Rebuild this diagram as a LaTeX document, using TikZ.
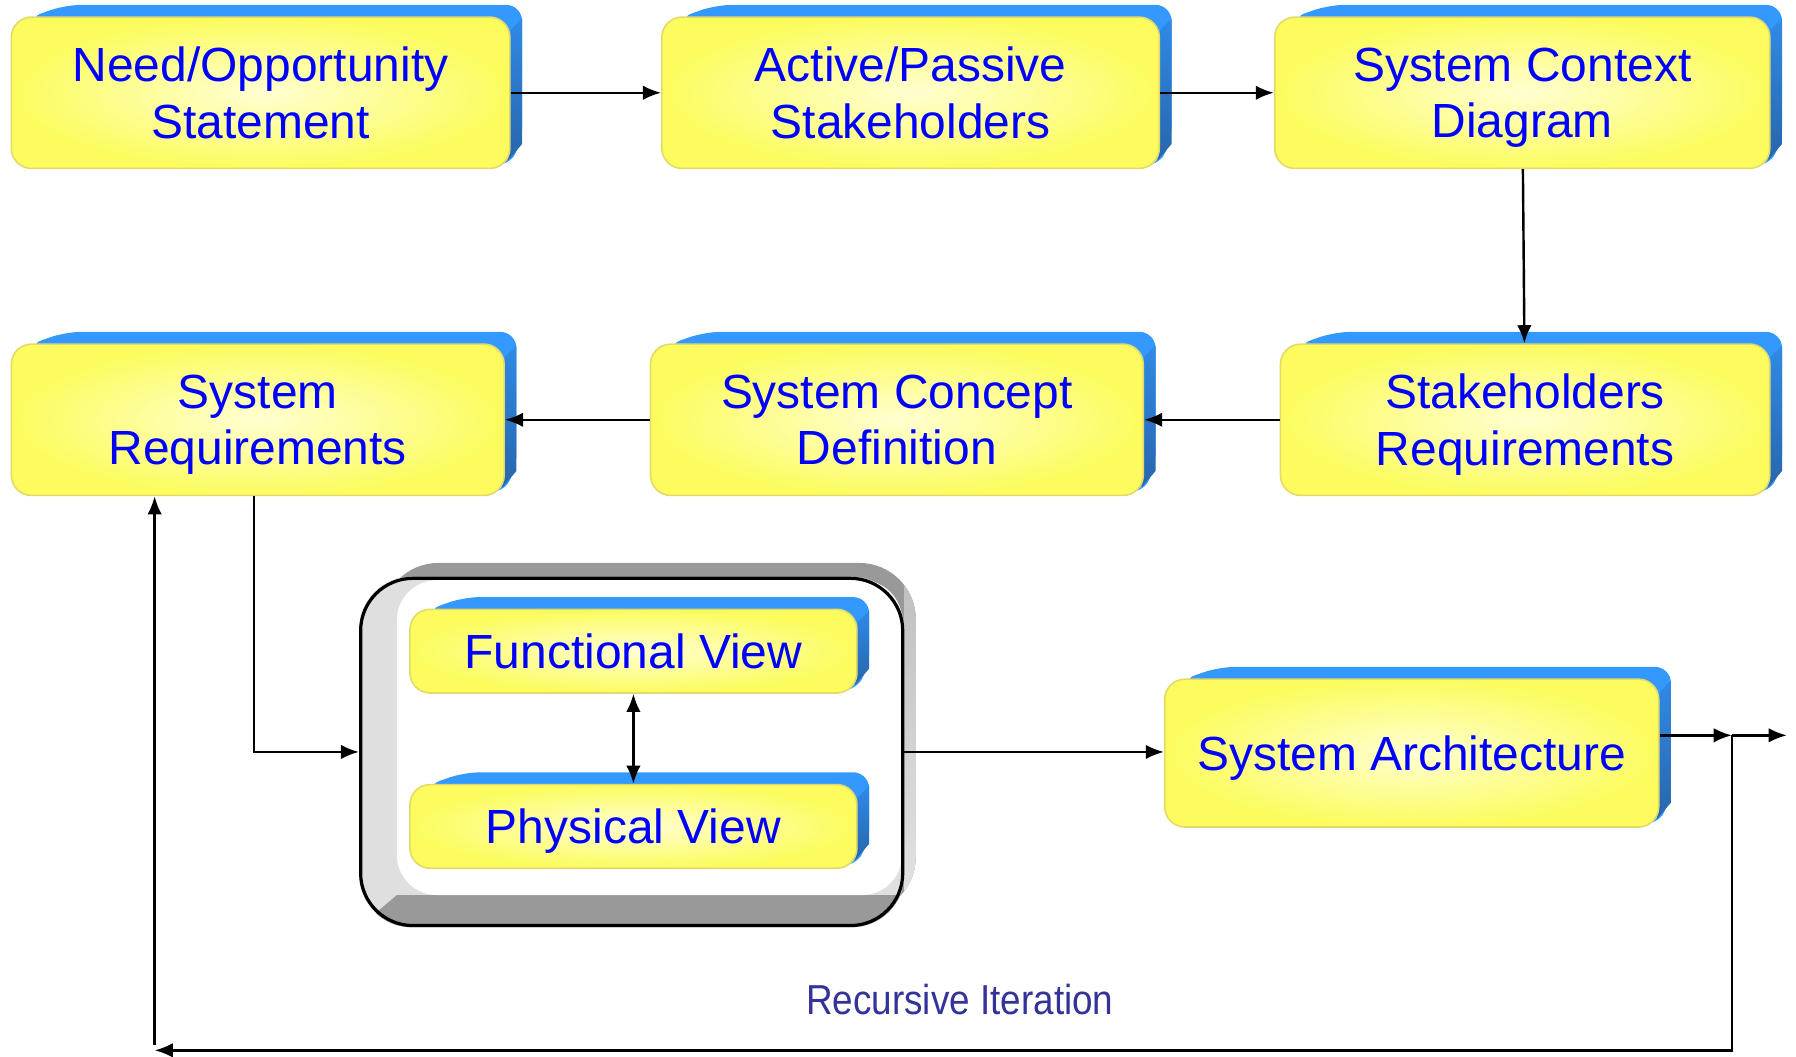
\documentclass[tikz,border=0pt]{standalone}
\usepackage{fontspec}
\setmainfont{Liberation Sans}
\usetikzlibrary{positioning,arrows.meta}
\definecolor{boxyellow}{HTML}{FCFC5E}
\definecolor{boxlight}{HTML}{FFFFD2}
\definecolor{boxedge}{HTML}{E4DA6A}
\definecolor{backtop}{HTML}{3399FF}
\definecolor{backside}{HTML}{2766AC}
\definecolor{labelblue}{HTML}{0000FF}
\definecolor{loopblue}{HTML}{333399}
\pgfdeclarelayer{frame}
\pgfdeclarelayer{depth}
\pgfsetlayers{frame,depth,main}

\begin{document}
\begin{tikzpicture}
  [x=0.01cm,y=-0.01cm,
   block/.style={rectangle,rounded corners=5pt,draw=boxedge,line width=0.4pt,
     inner color=boxlight,outer color=boxyellow,text=labelblue,align=center,
     font=\fontsize{11.9}{14}\selectfont,inner sep=0pt,text depth=0pt,
     minimum height=1.32cm},
   views box/.style={rectangle,rounded corners=13pt,draw=black,line width=0.8pt,
     inner sep=0pt,minimum width=4.73cm,minimum height=3.03cm},
   link/.style={-{Latex[length=4.5pt,width=3.6pt]},line width=0.6pt}]
  \useasboundingbox (0,0) rectangle (1568,922);

  \node[block,minimum width=4.35cm] (need) at (227.5,81) {Need/Opportunity\\Statement};
  \node[block,minimum width=4.34cm] (actors) at (795,81) {Active/Passive\\Stakeholders};
  \node[block,minimum width=4.32cm] (context) at (1329,81) {System Context\\Diagram};
  \node[block,minimum width=4.27cm] (stakereq) at (1331.5,366.5) {Stakeholders\\Requirements};
  \node[block,minimum width=4.30cm] (concept) at (783,366.5) {System Concept\\Definition};
  \node[block,minimum width=4.30cm] (sysreq) at (225,366.5) {System\\Requirements};
  \node[views box] (views) at (551.5,656.5) {};
  \node[block,minimum width=3.9cm,minimum height=0.73cm] (func) at (553,568.5) {Functional View};
  \node[block,minimum width=3.9cm,minimum height=0.73cm] (phys) at (553,721.5) {Physical View};
  \node[block,minimum width=4.31cm,minimum height=1.29cm] (arch) at (1232.5,657.5) {System Architecture};
  \node[text=loopblue,font=\fontsize{10.4}{12}\selectfont] (loop) at (838,873)
    {\scalebox{0.88}[1]{Recursive Iteration}};

  % grey bevelled frame round the two views
  \begin{pgfonlayer}{frame}
    \fill[gray!80,rounded corners=14pt] ([xshift=0.2cm,yshift=0.12cm]views.north west)
      rectangle ([xshift=0.1cm,yshift=0.12cm]views.south east);
    \begin{scope}
      \clip[rounded corners=14pt] ([xshift=0.2cm,yshift=0.12cm]views.north west)
        rectangle ([xshift=0.1cm,yshift=0.12cm]views.south east);
      \shade[top color=gray!50,bottom color=gray!20] ([yshift=0.05cm]views.north east)
        rectangle ([xshift=0.12cm]views.south east);
    \end{scope}
    \fill[gray!25,rounded corners=13pt] (views.north west) rectangle (views.south east);
    \begin{scope}
      \clip[rounded corners=13pt] (views.north west) rectangle (views.south east);
      \fill[gray!80] ([xshift=0.33cm,yshift=0.28cm]views.south west)
        -- ([yshift=0.28cm]views.south east) -- (views.south east)
        -- (views.south west) -- cycle;
    \end{scope}
    \fill[white,rounded corners=10pt] ([xshift=0.33cm,yshift=-0.03cm]views.north west)
      rectangle ([xshift=-0.02cm,yshift=0.28cm]views.south east);
  \end{pgfonlayer}

  % blue depth behind every block
  \begin{pgfonlayer}{depth}
    \foreach \n in {need,actors,context,stakereq,concept,sysreq,func,phys,arch}{
      \fill[backtop,rounded corners=4pt] ([xshift=0.14cm,yshift=-0.02cm]\n.north west)
        -- ([xshift=0.48cm,yshift=0.1cm]\n.north west)
        -- ([xshift=0.1cm,yshift=0.1cm]\n.north east)
        -- ([xshift=0.1cm,yshift=0.22cm]\n.south east)
        -- ([xshift=-0.05cm]\n.south east) -- cycle;
      \shade[top color=backtop!70!backside,bottom color=backside]
        ([yshift=-0.12cm]\n.north east)
        -- ([xshift=0.1cm,yshift=-0.02cm]\n.north east)
        -- ([xshift=0.1cm,yshift=0.22cm]\n.south east)
        -- ([xshift=-0.02cm,yshift=0.08cm]\n.south east) -- cycle;
    }
  \end{pgfonlayer}

  \coordinate (split) at (1512,642);
  \coordinate (outlet) at (1560,642);
  \coordinate (corner) at (1512,917);
  \coordinate (back) at (135,917);

  \draw[link] (need) -- (actors);
  \draw[link] (actors) -- (context);
  \draw[link] (context) -- (stakereq);
  \draw[link] (stakereq) -- (concept);
  \draw[link] (concept) -- (sysreq);
  \draw[link] ([xshift=-0.03cm]sysreq.south) |- (views.west);
  \draw[{Latex[length=4.5pt,width=3.6pt]}-{Latex[length=4.5pt,width=3.6pt]},line width=0.6pt]
    (func) -- (phys);
  \draw[link] (views.east) -- (views.east -| arch.west);
  \draw[link] (arch.east |- split) -- (split);
  \draw[link] (split) -- (outlet);
  \draw[link] (split) -- (corner) -- (back);
  \draw[link] ([yshift=0.05cm]back) -- (back |- sysreq.south);
\end{tikzpicture}
\end{document}
